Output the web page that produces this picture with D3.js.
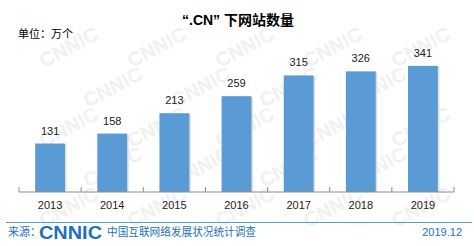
<!DOCTYPE html>
<html>
<head>
<meta charset="utf-8">
<script src="https://cdn.jsdelivr.net/npm/d3@7"></script>
<style>
  body { margin: 0; background: #fff; }
  svg text { font-family: Arial, "Liberation Sans", "Noto Sans CJK SC", sans-serif; }
</style>
</head>
<body>
<svg id="chart" width="474" height="246"></svg>
<script>
let years = ["2013", "2014", "2015", "2016", "2017", "2018", "2019"]
let sites = [131, 158, 213, 259, 315, 326, 341]
let title = "“.CN” 下网站数量"
let unitLabel = "单位：万个"
let sourceLabel = "来源："
let sourceName = "中国互联网络发展状况统计调查"
let dateLabel = "2019.12"

let svg = d3.select("#chart")
let blue = "#5b9bd5"
let darkBlue = "#1f6fc0"

// watermark, only the copies that sit fully inside the picture
let wm = svg.append("g").attr("fill", "#f1f1f1")
for (let r = 0; r < 7; r++) {
    for (let c = 0; c < 7; c++) {
        let px = c * 88 + (r % 2 ? 44 : 0)
        let py = r * 40 + 28
        wm.append("text")
            .attr("transform", `translate(${px},${py}) rotate(-28)`)
            .attr("font-size", 20)
            .attr("font-weight", "bold")
            .text("CNNIC")
    }
}
wm.selectAll("text").each(function () {
    let b = this.getBoundingClientRect()
    if (b.left < 0 || b.top < 0 || b.right > 474 || b.bottom > 246) d3.select(this).remove()
})

let x = d3.scaleBand().domain(years).range([19, 454]).paddingInner(0.52).paddingOuter(0.26)
let y = d3.scaleLinear().domain([0, 400]).range([192, 44])

svg.append("text")
    .attr("x", 238).attr("y", 25)
    .attr("text-anchor", "middle")
    .attr("font-size", 14).attr("font-weight", "bold")
    .text(title)

svg.append("text")
    .attr("x", 18).attr("y", 38)
    .attr("font-size", 11)
    .text(unitLabel)

// bar shadows
svg.append("g").selectAll("rect").data(sites).join("rect")
    .attr("x", (d, i) => x(years[i]) + 1.5)
    .attr("y", d => y(d) + 1)
    .attr("width", x.bandwidth())
    .attr("height", d => y(0) - y(d) - 1)
    .attr("fill", "#dcdcdc")

svg.append("g").selectAll("rect").data(sites).join("rect")
    .attr("x", (d, i) => x(years[i]))
    .attr("y", d => y(d))
    .attr("width", x.bandwidth())
    .attr("height", d => y(0) - y(d))
    .attr("fill", blue)

svg.append("g").selectAll("text").data(sites).join("text")
    .attr("x", (d, i) => x(years[i]) + x.bandwidth() / 2)
    .attr("y", d => y(d) - 9)
    .attr("text-anchor", "middle")
    .attr("font-size", 11)
    .attr("fill", "#222")
    .text(d => d)

// axis: ticks between bands
let axisG = svg.append("g").attr("transform", `translate(0,${y(0)})`)
axisG.append("line")
    .attr("x1", 19).attr("x2", 454)
    .attr("stroke", "#8c8c8c")
let edges = d3.range(years.length + 1).map(i => 19 + i * (435 / years.length))
axisG.selectAll(".tk").data(edges).join("line")
    .attr("class", "tk")
    .attr("x1", d => d).attr("x2", d => d)
    .attr("y1", 0).attr("y2", -5)
    .attr("stroke", "#8c8c8c")
axisG.selectAll(".lbl").data(years).join("text")
    .attr("class", "lbl")
    .attr("x", d => x(d) + x.bandwidth() / 2)
    .attr("y", 17)
    .attr("text-anchor", "middle")
    .attr("font-size", 11)
    .attr("fill", "#222")
    .text(d => d)

// footer
svg.append("line")
    .attr("x1", 6).attr("x2", 472)
    .attr("y1", 222.5).attr("y2", 222.5)
    .attr("stroke", blue).attr("stroke-width", 1.2)
svg.append("text")
    .attr("x", 8).attr("y", 236)
    .attr("font-size", 11).attr("fill", darkBlue)
    .text(sourceLabel)
svg.append("text")
    .attr("x", 39).attr("y", 239)
    .attr("font-size", 18).attr("font-weight", "bold")
    .attr("fill", darkBlue)
    .attr("textLength", 63).attr("lengthAdjust", "spacingAndGlyphs")
    .text("CNNIC")
svg.append("text")
    .attr("x", 107).attr("y", 236)
    .attr("font-size", 11).attr("fill", darkBlue)
    .attr("textLength", 149).attr("lengthAdjust", "spacingAndGlyphs")
    .text(sourceName)
svg.append("text")
    .attr("x", 462).attr("y", 236)
    .attr("text-anchor", "end")
    .attr("font-size", 11).attr("fill", darkBlue)
    .text(dateLabel)
</script>
</body>
</html>
